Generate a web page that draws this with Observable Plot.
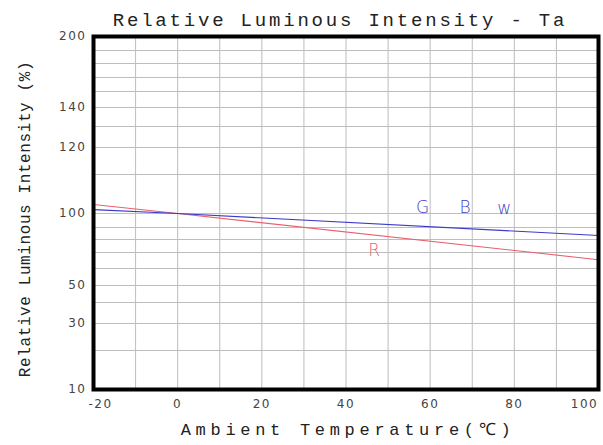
<!DOCTYPE html>
<html>
<head>
<meta charset="utf-8">
<script src="https://cdn.jsdelivr.net/npm/d3@7"></script>
<script src="https://cdn.jsdelivr.net/npm/@observablehq/plot@0.6"></script>
<style>
  body { margin: 0; background: #fff; }
</style>
</head>
<body>
<div id="chart"></div>
<script>
// Data
const temperature = [-20, 0, 100];
const seriesGBW = [101, 100, 83.3];
const seriesR = [102.3, 100, 65.5];

const xGrid = [-20, -10, 0, 10, 20, 30, 40, 50, 60, 70, 80, 90, 100];
const xTickLabels = [-20, 0, 20, 40, 60, 80, 100];
const yGrid = [10, 20, 30, 40, 50, 60, 70, 80, 90, 100, 110, 120, 130, 140, 150, 160, 170, 180, 200];
const yTickLabels = [10, 30, 50, 100, 120, 140, 200];

const labelNames = ["G", "B", "w", "R"];
const labelX = [58.2, 68.3, 77.6, 46.7];
const labelY = [101.5, 101.5, 101.3, 71.5];
const labelSeries = ["GBW", "GBW", "GBW", "R"];

const title = "Relative Luminous Intensity - Ta";
const xTitle = "Ambient Temperature(℃)";
const yTitle = "Relative Luminous Intensity (%)";

// Build tables
const rowsGBW = temperature.map((t, i) => ({t, v: seriesGBW[i]}));
const rowsR = temperature.map((t, i) => ({t, v: seriesR[i]}));
const labels = labelNames.map((n, i) => ({n, x: labelX[i], y: labelY[i], s: labelSeries[i]}));

const blue = "#3b3bc8";
const red = "#e8606e";

// The original chart's non-uniform vertical axis: fraction of the plot height at each grid value
const yFraction = d3.scaleLinear().domain(yGrid).range(
  [0, 0.1105, 0.187, 0.2465, 0.2946, 0.3428, 0.3881, 0.4249, 0.4589, 0.4986,
   0.6091, 0.6856, 0.745, 0.7989, 0.8442, 0.8839, 0.9235, 0.9603, 1]);

const tickFont = "DejaVu Sans";
const monoFont = "Liberation Mono";
const tickStyle = {tickSize: 0, fontSize: 12, fontFamily: tickFont, fill: "#444", label: null, tickFormat: d => String(d)};

const plot = Plot.plot({
  width: 603,
  height: 445,
  marginLeft: 93,
  marginRight: 5,
  marginTop: 36,
  marginBottom: 56,
  style: {background: "#fff"},
  x: {domain: [-20, 100], axis: null},
  y: {type: "linear", transform: v => yFraction(v), domain: [0, 1], axis: null},
  marks: [
    Plot.gridX(xGrid, {stroke: "#bdbdbd", strokeOpacity: 1, strokeWidth: 1}),
    Plot.gridY(yGrid, {stroke: "#bdbdbd", strokeOpacity: 1, strokeWidth: 1}),
    Plot.line(rowsR, {x: "t", y: "v", stroke: red, strokeWidth: 1.1}),
    Plot.line(rowsGBW, {x: "t", y: "v", stroke: blue, strokeWidth: 1.1}),
    Plot.text(labels.filter(d => d.s === "GBW"), {x: "x", y: "y", text: "n", fill: blue, fontSize: 17, fontFamily: "DejaVu Sans", fontWeight: 300}),
    Plot.text(labels.filter(d => d.s === "R"), {x: "x", y: "y", text: "n", fill: red, fontSize: 17, fontFamily: "DejaVu Sans", fontWeight: 300}),
    Plot.frame({stroke: "#000", strokeWidth: 4}),
    Plot.axisY(yTickLabels, {...tickStyle, tickPadding: 7}),
    Plot.axisX(xTickLabels.filter(d => d > -20 && d < 100), {...tickStyle, tickPadding: 10}),
    Plot.axisX(xTickLabels.filter(d => d === -20), {...tickStyle, tickPadding: 10, dx: 7}),
    Plot.axisX(xTickLabels.filter(d => d === 100), {...tickStyle, tickPadding: 10, dx: -14}),
    Plot.text([title], {frameAnchor: "top", textAnchor: "middle", dy: -11, dx: -6, fontSize: 19, fontFamily: monoFont, fill: "#222", lineAnchor: "bottom"}),
    Plot.text([xTitle], {frameAnchor: "bottom", textAnchor: "middle", dy: 45, dx: 2, fontSize: 17, fontFamily: monoFont, fill: "#222"}),
    Plot.text([yTitle], {frameAnchor: "left", textAnchor: "middle", dx: -69, dy: 6, rotate: -90, fontSize: 16, fontFamily: monoFont, fill: "#222"})
  ]
});

// letter spacing to match the spaced-out typewriter lettering of the original
const spacing = new Map([[title, "2.8px"], [xTitle, "4.7px"], [yTitle, "0.6px"]]);
d3.select(plot).selectAll("text").each(function () {
  const s = spacing.get(this.textContent);
  if (s) this.style.letterSpacing = s;
  else if (/^[−\-]?\d+$/.test(this.textContent)) this.style.letterSpacing = "1.5px";
});
document.getElementById("chart").appendChild(plot);
</script>
</body>
</html>
